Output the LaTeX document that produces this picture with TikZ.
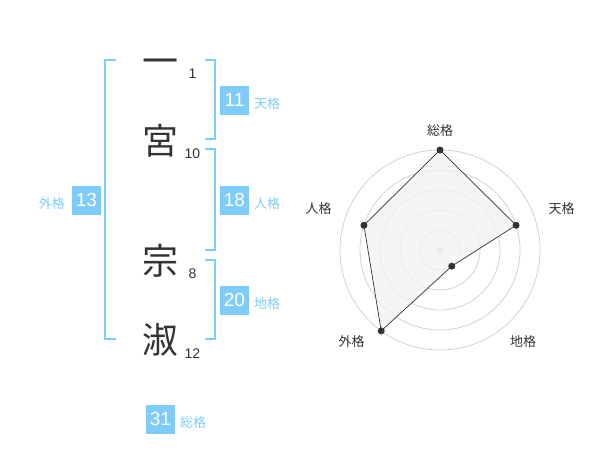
\documentclass[tikz,border=0pt]{standalone}
\usepackage{fontspec}
\setmainfont{Liberation Sans}
\newfontfamily\cjk{Noto Sans CJK JP}
\definecolor{kakublue}{RGB}{127,204,250}
\definecolor{inkgray}{RGB}{51,51,51}
\definecolor{ringgray}{RGB}{210,210,210}
\definecolor{areagray}{RGB}{242,242,242}
\tikzset{
	kanji/.style={inner sep=0pt, text=inkgray, font=\cjk\fontsize{36}{36}\selectfont},
	stroke/.style={inner sep=0pt, text=inkgray, font=\fontsize{14}{14}\selectfont},
	kakubox/.style={fill=kakublue, text=white, minimum size=29pt, inner sep=0pt, font=\fontsize{19}{19}\selectfont},
	kakulabel/.style={inner sep=0pt, text=kakublue, font=\cjk\fontsize{13}{13}\selectfont},
	axislabel/.style={inner sep=0pt, text=inkgray, font=\cjk\fontsize{13}{13}\selectfont},
	bracket/.style={line width=2pt, draw=kakublue}
}
\begin{document}
\begin{tikzpicture}[x=1pt, y=-1pt]
	\useasboundingbox (0,0) rectangle (600,470);

	%% Name
	\node[kanji] (k1) at (160,67) {一};
	\node[kanji] (k2) at (160,141) {宮};
	\node[kanji] (k3) at (160,261) {宗};
	\node[kanji] (k4) at (160,340) {淑};
	\node[stroke] (s1) at (192.5,73.5) {1};
	\node[stroke] (s2) at (192.5,153.5) {10};
	\node[stroke] (s3) at (192.5,273.5) {8};
	\node[stroke] (s4) at (192.5,353.5) {12};

	%% Brackets
	\coordinate[](ga) at (116,60);
	\coordinate[](gb) at (105,60);
	\coordinate[](gc) at (105,339.5);
	\coordinate[](gd) at (116,339.5);
	\draw[bracket] (ga) -- (gb) -- (gc) -- (gd);
	%
	\draw[bracket] (205,60) -- (214.5,60) -- (214.5,139.5) -- (205,139.5);
	\draw[bracket] (205,149.5) -- (214.5,149.5) -- (214.5,250) -- (205,250);
	\draw[bracket] (205,260) -- (214.5,260) -- (214.5,339.5) -- (205,339.5);

	%% Kaku values
	\node[kakubox] (ten) at (234.5,100.3) {11};
	\node[kakulabel, anchor=west] (tenl) at (254,103.5) {天格};
	%
	\node[kakubox] (jin) at (234.5,200.3) {18};
	\node[kakulabel, anchor=west] (jinl) at (254,203.5) {人格};
	%
	\node[kakubox] (chi) at (234.5,300.3) {20};
	\node[kakulabel, anchor=west] (chil) at (254,303.5) {地格};
	%
	\node[kakubox] (gai) at (86.5,200.3) {13};
	\node[kakulabel, anchor=east] (gail) at (65,203.5) {外格};
	%
	\node[kakubox] (sou) at (160.5,419.2) {31};
	\node[kakulabel, anchor=west] (soul) at (180,422.5) {総格};

	%% Radar chart
	\begin{scope}[shift={(440,250)}, yscale=-1]
		\foreach \r in {20,40,60,80,100}
			\draw[ringgray, line width=0.8pt] (0,0) circle (\r);
		\fill[ringgray] (0,0) circle (3.5);

		\coordinate[](pa) at (90:100);
		\coordinate[](pb) at (18:80);
		\coordinate[](pc) at (-54:20);
		\coordinate[](pd) at (-126:100);
		\coordinate[](pe) at (162:80);

		\filldraw[fill=areagray, fill opacity=0.8, line width=0.7pt, draw=inkgray]
		(pa) -- (pb) -- (pc) -- (pd) -- (pe) -- cycle;
		\foreach \p in {pa,pb,pc,pd,pe}
			\fill[inkgray] (\p) circle (3.5);
	\end{scope}

	%% Axis labels
	\node[axislabel] (ra) at (440,130.5) {総格};
	\node[axislabel] (rb) at (561.5,208.5) {天格};
	\node[axislabel] (rc) at (523,341.5) {地格};
	\node[axislabel] (rd) at (351.5,341.5) {外格};
	\node[axislabel] (re) at (318.5,208.5) {人格};

\end{tikzpicture}
\end{document}
